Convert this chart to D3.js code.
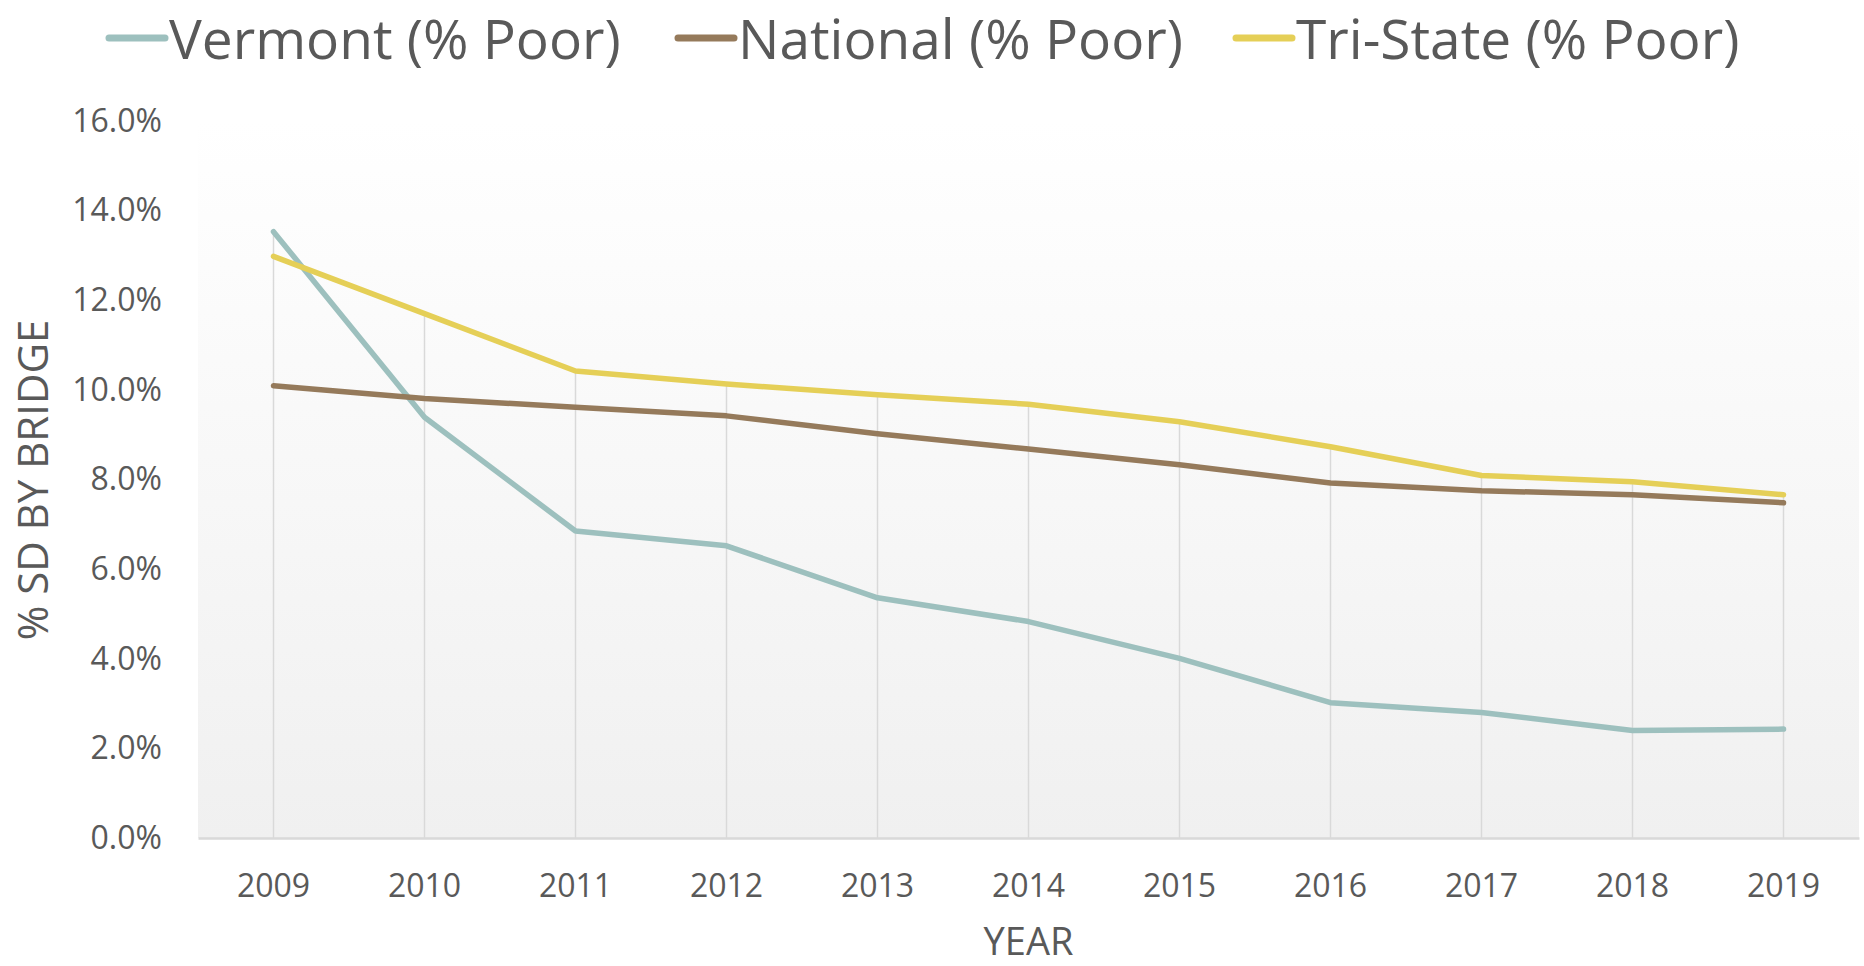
<!DOCTYPE html>
<html>
<head>
<meta charset="utf-8">
<script src="https://cdn.jsdelivr.net/npm/d3@7"></script>
<style>
  html, body { margin: 0; padding: 0; background: #fff; }
  svg { display: block; font-family: "Open Sans", sans-serif; }
  .tick text { fill: #595959; }
</style>
</head>
<body>
<svg id="chart" width="1864" height="966"></svg>
<script>
// data (share of bridges in poor condition)
const years = ["2009", "2010", "2011", "2012", "2013", "2014", "2015", "2016", "2017", "2018", "2019"];
const vermont = [0.1353, 0.0939, 0.0685, 0.0652, 0.0536, 0.0483, 0.0401, 0.0302, 0.0280, 0.0240, 0.0243];
const national = [0.1009, 0.0981, 0.0961, 0.0942, 0.0902, 0.0868, 0.0833, 0.0792, 0.0775, 0.0766, 0.0748];
const triState = [0.1298, 0.1170, 0.1042, 0.1013, 0.0989, 0.0968, 0.0929, 0.0873, 0.0809, 0.0795, 0.0766];
const yTicks = [0, 0.02, 0.04, 0.06, 0.08, 0.10, 0.12, 0.14, 0.16];

const seriesNames = ["Vermont (% Poor)", "National (% Poor)", "Tri-State (% Poor)"];
const seriesValues = [vermont, national, triState];
const seriesColors = ["#9dc0be", "#957a5b", "#e5cf57"];

const series = seriesNames.map((name, i) => ({ name, values: seriesValues[i], color: seriesColors[i] }));

const svg = d3.select("#chart");
const textColor = "#595959";

const plot = { left: 198, right: 1859, top: 121, bottom: 838 };

const x = d3.scaleBand().domain(years).range([plot.left, plot.right]).padding(0);
const y = d3.scaleLinear().domain([0, 0.16]).range([plot.bottom, plot.top]);
const cx = d => x(d) + x.bandwidth() / 2;

// plot area gradient
const defs = svg.append("defs");
const grad = defs.append("linearGradient")
  .attr("id", "plotFill")
  .attr("x1", 0).attr("y1", 0).attr("x2", 0).attr("y2", 1);
grad.append("stop").attr("offset", "0%").attr("stop-color", "#ffffff");
grad.append("stop").attr("offset", "100%").attr("stop-color", "#f0f0f0");

svg.append("rect")
  .attr("x", plot.left)
  .attr("y", plot.top)
  .attr("width", plot.right - plot.left)
  .attr("height", plot.bottom - plot.top)
  .attr("fill", "url(#plotFill)");

// drop lines from the highest series down to the axis
svg.append("g")
  .selectAll("line")
  .data(years)
  .join("line")
  .attr("x1", d => cx(d))
  .attr("x2", d => cx(d))
  .attr("y1", (d, i) => y(d3.max(seriesValues, s => s[i])))
  .attr("y2", y(0))
  .attr("stroke", "#d9d9d9")
  .attr("stroke-width", 1.5);

// axes
const yAxis = svg.append("g")
  .attr("transform", `translate(${plot.left},0)`)
  .call(d3.axisLeft(y).tickValues(yTicks).tickFormat(d3.format(".1%")).tickSize(0).tickPadding(36));
yAxis.select(".domain").remove();
yAxis.selectAll("text").attr("font-size", 32).attr("font-family", "Open Sans, sans-serif");

const xAxis = svg.append("g")
  .attr("transform", `translate(0,${plot.bottom})`)
  .call(d3.axisBottom(x).tickSize(0).tickPadding(36));
xAxis.select(".domain").attr("stroke", "#d9d9d9").attr("stroke-width", 2.5);
xAxis.selectAll("text").attr("font-size", 32).attr("font-family", "Open Sans, sans-serif");

// axis titles
svg.append("text")
  .attr("x", (plot.left + plot.right) / 2)
  .attr("y", 955)
  .attr("text-anchor", "middle")
  .attr("font-size", 38)
  .attr("fill", textColor)
  .text("YEAR");

svg.append("text")
  .attr("transform", "translate(48,480) rotate(-90)")
  .attr("text-anchor", "middle")
  .attr("font-size", 42)
  .attr("fill", textColor)
  .text("% SD BY BRIDGE");

// lines
const line = d3.line()
  .x((d, i) => cx(years[i]))
  .y(d => y(d));

svg.append("g")
  .selectAll("path")
  .data(series)
  .join("path")
  .attr("d", d => line(d.values))
  .attr("fill", "none")
  .attr("stroke", d => d.color)
  .attr("stroke-width", 5.5)
  .attr("stroke-linejoin", "round")
  .attr("stroke-linecap", "round");

// legend
const legendX = [109, 678, 1236];
const legend = svg.append("g")
  .selectAll("g")
  .data(series)
  .join("g")
  .attr("transform", (d, i) => `translate(${legendX[i]},38)`);

legend.append("line")
  .attr("x1", 0).attr("x2", 56)
  .attr("y1", 0).attr("y2", 0)
  .attr("stroke", d => d.color)
  .attr("stroke-width", 7)
  .attr("stroke-linecap", "round");

legend.append("text")
  .attr("x", 60)
  .attr("y", 21)
  .attr("font-size", 55)
  .attr("fill", textColor)
  .text(d => d.name);
</script>
</body>
</html>
